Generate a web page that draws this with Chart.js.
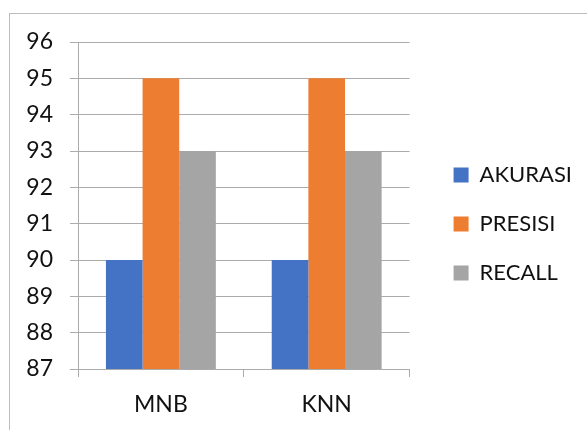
<!DOCTYPE html>
<html>
<head>
<meta charset="utf-8">
<script src="https://cdn.jsdelivr.net/npm/chart.js@4/dist/chart.umd.min.js"></script>
<style>
  html, body { margin: 0; padding: 0; background: #fff; }
  #wrap { position: relative; width: 587px; height: 430px; overflow: hidden; }
  #frame { position: absolute; left: 9px; top: 13px; width: 700px; height: 500px; border: 1px solid #bdbdbd; box-sizing: border-box; }
  canvas { position: absolute; left: 0; top: 0; }
</style>
</head>
<body>
<div id="wrap">
  <div id="frame"></div>
  <canvas id="c" width="587" height="430"></canvas>
</div>
<script>
const categories = ['MNB', 'KNN'];
const akurasi = [90, 90];
const presisi = [95, 95];
const recall = [93, 93];
const yMin = 87;
const yMax = 96;

const FONT = 'Lato, "Open Sans", sans-serif';
const TEXT = '#111111';
const GRID = '#ababab';

// invisible spacer axis used only to reserve room in the layout
const spacer = (pos, size) => ({
  position: pos,
  display: true,
  grid: { display: false },
  border: { display: false },
  ticks: { display: false },
  afterFit: s => { if (pos === 'top') s.height = size; else s.width = size; }
});

new Chart(document.getElementById('c'), {
  type: 'bar',
  data: {
    labels: categories,
    datasets: [
      { label: 'AKURASI', data: akurasi, backgroundColor: '#4472C4' },
      { label: 'PRESISI', data: presisi, backgroundColor: '#ED7D31' },
      { label: 'RECALL', data: recall, backgroundColor: '#A5A5A5' }
    ]
  },
  options: {
    responsive: false,
    animation: false,
    devicePixelRatio: 1,
    categoryPercentage: 0.663,
    barPercentage: 1,
    layout: { padding: { left: 0, top: 18, right: 5, bottom: 0 } },
    plugins: {
      tooltip: { enabled: false },
      legend: {
        position: 'right',
        align: 'center',
        maxWidth: 220,
        labels: {
          font: { family: FONT, size: 22 },
          color: TEXT,
          boxWidth: 15,
          boxHeight: 15,
          padding: 27
        }
      }
    },
    scales: {
      x: {
        offset: true,
        grid: { display: true, drawOnChartArea: false, drawTicks: true, tickLength: 8, offset: true, color: GRID, lineWidth: 1 },
        border: { display: true, color: GRID, width: 1 },
        ticks: { font: { family: FONT, size: 23 }, color: TEXT, padding: 14 },
        afterFit: s => { s.height = 61; }
      },
      y: {
        min: yMin,
        max: yMax,
        ticks: { stepSize: 1, font: { family: FONT, size: 23 }, color: TEXT, padding: 17 },
        grid: { color: GRID, lineWidth: 1, tickLength: 8 },
        border: { display: true, color: GRID, width: 1 },
        afterFit: s => { s.width = 78; }
      },
      topSpace: spacer('top', 24),
      rightSpace: spacer('right', 17)
    }
  }
});
</script>
</body>
</html>
